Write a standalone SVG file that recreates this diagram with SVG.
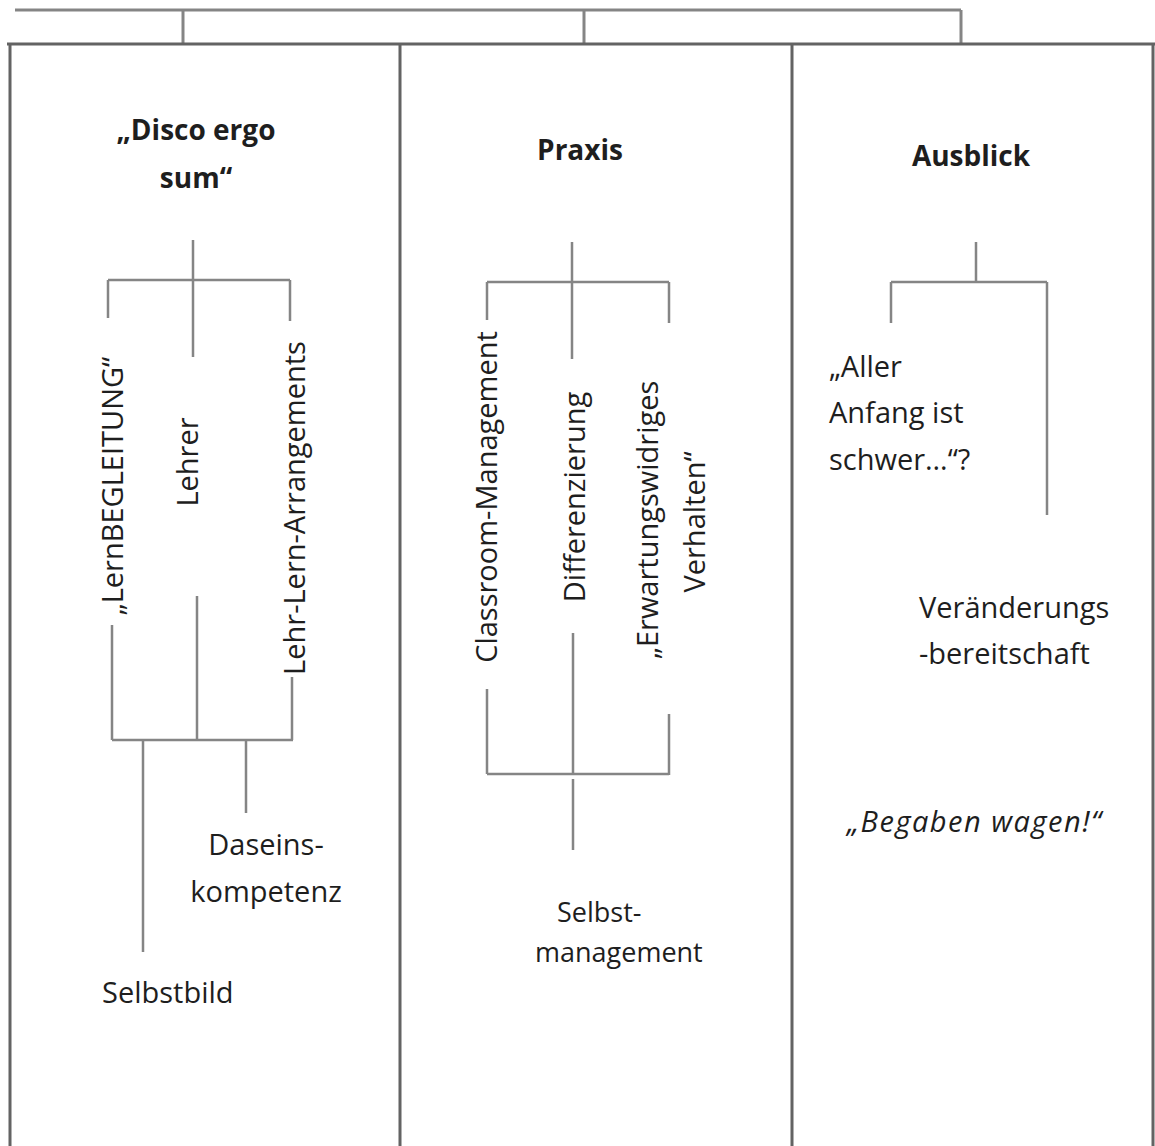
<svg xmlns="http://www.w3.org/2000/svg" width="1155" height="1146" viewBox="0 0 1155 1146">
  <style>
    .frame { stroke: #636363; stroke-width: 3; fill: none; }
    .bar { stroke: #858585; stroke-width: 3; fill: none; }
    .link { stroke: #858585; stroke-width: 2.5; fill: none; }
    text { font-family: "Open Sans", "Noto Sans", "Liberation Sans", sans-serif; font-size: 29px; fill: #1e1e1e; }
    .title { font-weight: bold; font-size: 28px; }
    .ital { font-style: italic; letter-spacing: 1.5px; }
    .small { font-size: 27px; }
  </style>
  <rect width="1155" height="1146" fill="#ffffff"/>

  <!-- outer frame: top bracket and three columns -->
  <g id="frame">
    <path class="bar" d="M15,10 H961 M183,10 V44 M584,10 V44 M961,10 V44"/>
    <path class="frame" d="M7,44 H1155 M10,44 V1146 M400,44 V1146 M792,44 V1146 M1153,44 V1146"/>
  </g>

  <!-- connectors -->
  <g id="connectors">
    <!-- column 1 -->
    <path class="link" d="M193,240 V357 M108,280 H290 M108,280 V318 M290,280 V321"/>
    <path class="link" d="M112,625 V740 M197,596 V740 M292,677 V740 M112,740 H293 M143,740 V952 M246,740 V813"/>
    <!-- column 2 -->
    <path class="link" d="M572,242 V359 M487,282 H669 M487,282 V320 M669,282 V323"/>
    <path class="link" d="M573,633 V773 M487,689 V774 M669,714 V775 M487,774 H669 M573,779 V850"/>
    <!-- column 3 -->
    <path class="link" d="M976,242 V282 M891,282 H1047 M891,282 V323 M1047,282 V515"/>
  </g>

  <!-- column 1 -->
  <g id="title-disco">
    <text class="title" x="196" y="140" text-anchor="middle">„Disco ergo</text>
    <text class="title" x="196" y="188" text-anchor="middle">sum“</text>
  </g>
  <g id="node-lernbegleitung">
    <text transform="translate(123,486) rotate(-90)" text-anchor="middle">„LernBEGLEITUNG“</text>
  </g>
  <g id="node-lehrer">
    <text transform="translate(198,462) rotate(-90)" text-anchor="middle">Lehrer</text>
  </g>
  <g id="node-arrangements">
    <text transform="translate(305,508) rotate(-90)" text-anchor="middle">Lehr-Lern-Arrangements</text>
  </g>
  <g id="node-daseins">
    <text x="266" y="855" text-anchor="middle">Daseins-</text>
    <text x="266" y="902" text-anchor="middle">kompetenz</text>
  </g>
  <g id="node-selbstbild">
    <text x="102" y="1003">Selbstbild</text>
  </g>

  <!-- column 2 -->
  <g id="title-praxis">
    <text class="title" x="580" y="160" text-anchor="middle">Praxis</text>
  </g>
  <g id="node-classroom">
    <text transform="translate(497,497) rotate(-90)" text-anchor="middle">Classroom-Management</text>
  </g>
  <g id="node-differenzierung">
    <text transform="translate(585,497) rotate(-90)" text-anchor="middle">Differenzierung</text>
  </g>
  <g id="node-verhalten">
    <text transform="translate(658,516) rotate(-90)" text-anchor="middle">
      <tspan x="0" y="0">„Erwartungswidriges</tspan>
      <tspan x="-6" y="47">Verhalten“</tspan>
    </text>
  </g>
  <g id="node-selbstmanagement">
    <text class="small" x="557" y="922">Selbst-</text>
    <text class="small" x="535" y="962">management</text>
  </g>

  <!-- column 3 -->
  <g id="title-ausblick">
    <text class="title" x="971" y="166" text-anchor="middle">Ausblick</text>
  </g>
  <g id="node-anfang">
    <text x="829" y="377">„Aller</text>
    <text x="829" y="423">Anfang ist</text>
    <text x="829" y="470">schwer…“?</text>
  </g>
  <g id="node-veraenderung">
    <text x="919" y="618">Veränderungs</text>
    <text x="919" y="664">-bereitschaft</text>
  </g>
  <g id="node-begaben">
    <text class="ital" x="847" y="832">„Begaben wagen!“</text>
  </g>
</svg>
